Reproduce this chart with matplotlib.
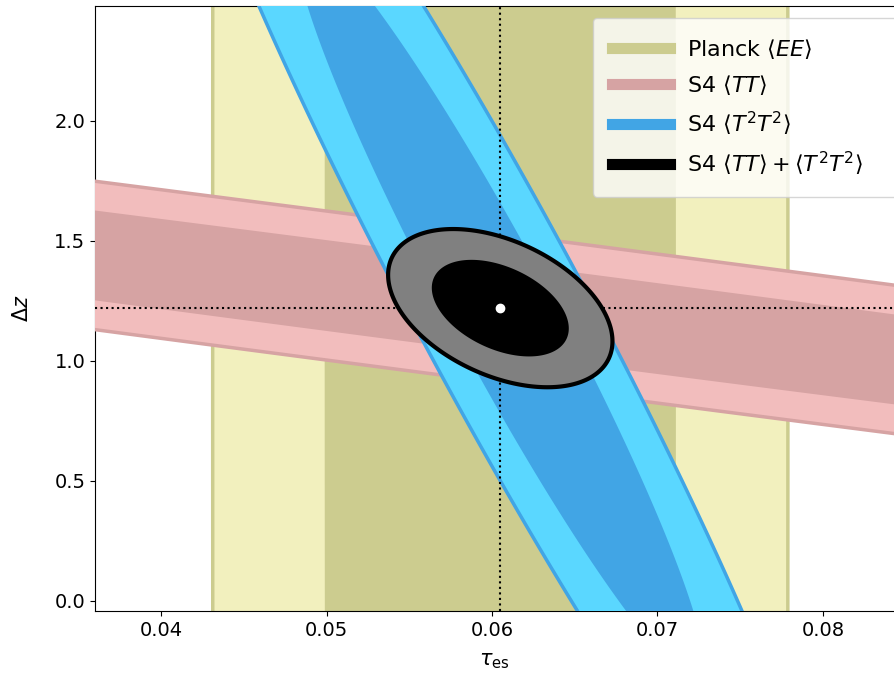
import matplotlib
matplotlib.use('Agg')
import matplotlib.pyplot as plt
import numpy as np

# fiducial point
fid_tau = 0.0605
fid_dz = 1.22

# forecast errors (1-sigma marginal) and correlation for each experiment
labels = [r'Planck $\langle EE\rangle$', r'S4 $\langle TT\rangle$',
          r'S4 $\langle T^2T^2\rangle$', r'S4 $\langle TT\rangle+\langle T^2T^2\rangle$']
sigma_tau = [0.007, 0.1, 0.00814, 0.00273]
sigma_dz = [20.0, 0.905, 1.022, 0.1327]
rho = [0.0, -0.9904, -0.959, -0.42]

# 68% / 95% levels for two parameters
delta_chi2 = [2.30, 6.17]

dark_colors = ['#cccc8f', '#d6a3a3', '#41a5e5', '#000000']
light_colors = ['#f2f0be', '#f2bdbd', '#5ad7ff', '#808080']
edge_widths = [2.5, 2.5, 2.5, 3.0]


def ellipse_points(st, sz, r, level, n=400):
    cov = np.array([[st**2, r*st*sz], [r*st*sz, sz**2]])
    L = np.linalg.cholesky(cov)
    t = np.linspace(0, 2*np.pi, n)
    circ = np.vstack([np.cos(t), np.sin(t)]) * np.sqrt(level)
    pts = L @ circ
    return fid_tau + pts[0], fid_dz + pts[1]


plt.rcParams['font.size'] = 14
fig = plt.figure(figsize=(8.94, 6.82), dpi=100)
ax = fig.add_axes([95/894, 1 - 611/682, 1 - 95/894, (611 - 6)/682])

for i in range(len(labels)):
    z = 1 + i*2 if i < 3 else 10
    x2, y2 = ellipse_points(sigma_tau[i], sigma_dz[i], rho[i], delta_chi2[1])
    ax.fill(x2, y2, facecolor=light_colors[i], edgecolor=dark_colors[i],
            lw=edge_widths[i], zorder=z)
    x1, y1 = ellipse_points(sigma_tau[i], sigma_dz[i], rho[i], delta_chi2[0])
    ax.fill(x1, y1, facecolor=dark_colors[i], edgecolor='none', zorder=z + 1)
    ax.plot([], [], color=dark_colors[i], lw=8, label=labels[i])

ax.axvline(fid_tau, color='k', ls=':', lw=1.5, zorder=8)
ax.axhline(fid_dz, color='k', ls=':', lw=1.5, zorder=8)
ax.plot(fid_tau, fid_dz, 'o', color='white', ms=6, zorder=12)

ax.set_xlim(0.036, 0.0843)
ax.set_ylim(-0.042, 2.479)
ax.set_xticks([0.04, 0.05, 0.06, 0.07, 0.08])
ax.set_yticks([0.0, 0.5, 1.0, 1.5, 2.0])
ax.spines['right'].set_visible(False)
ax.set_xlabel(r'$\tau_{\rm es}$', fontsize=15, labelpad=8)
ax.set_ylabel(r'$\Delta z$', fontsize=15, labelpad=16)

ax.legend(loc='upper left', bbox_to_anchor=(593/894, 1 - 18/682, 0.4, 0),
          bbox_transform=fig.transFigure, mode='expand', handlelength=2.6,
          borderpad=0.85, labelspacing=0.55, borderaxespad=0.0,
          framealpha=0.8, fontsize=16)

plt.savefig('out.png', dpi=100)
